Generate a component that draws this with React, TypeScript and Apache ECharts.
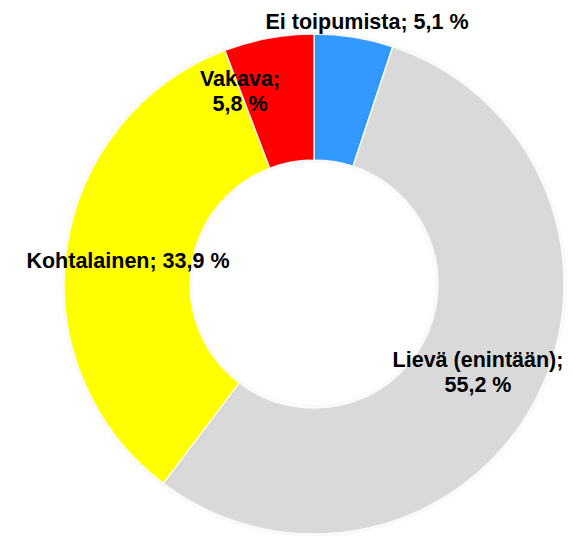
import React, { useEffect, useRef } from "react";
import * as echarts from "echarts";

const categories = ["Ei toipumista", "Lievä (enintään)", "Kohtalainen", "Vakava"];
const values = [5.1, 55.2, 33.9, 5.8];
const colors = ["#3399FF", "#D9D9D9", "#FFFF00", "#FF0000"];
// whether the value goes on a new line in the label
const labelBreaks = [false, true, false, true];
// label centre positions (px)
const labelPositions: [number, number][] = [
  [367, 22],
  [478, 372],
  [128, 261],
  [240, 91],
];

export default function App() {
  const ref = useRef<HTMLDivElement>(null);
  useEffect(() => {
    if (!ref.current) return;
    const chart = echarts.init(ref.current, undefined, { renderer: "svg" });
    chart.setOption({
      animation: false,
      backgroundColor: "#ffffff",
      series: [
        {
          type: "pie",
          center: [314, 284],
          radius: [124, 250],
          startAngle: 90,
          clockwise: true,
          avoidLabelOverlap: false,
          data: categories.map((name, i) => ({
            name,
            value: values[i],
            itemStyle: { color: colors[i] },
          })),
          itemStyle: {
            borderColor: "rgba(255,255,255,0.85)",
            borderWidth: 1.5,
            shadowBlur: 3,
            shadowColor: "rgba(0,0,0,0.12)",
          },
          label: {
            show: true,
            position: "inside",
            color: "#000",
            fontFamily: "'Liberation Sans', Arial, sans-serif",
            fontWeight: "bold",
            fontSize: 21.5,
            lineHeight: 25,
            align: "center",
            formatter: (p: any) => {
              const v = String(values[p.dataIndex]).replace(".", ",");
              return p.name + ";" + (labelBreaks[p.dataIndex] ? "\n" : " ") + v + " %";
            },
          },
          labelLine: { show: false },
          labelLayout: (p: any) => {
            const pos = labelPositions[p.dataIndex];
            return { x: pos[0], y: pos[1], align: "center", verticalAlign: "middle" };
          },
          emphasis: { disabled: true },
        },
      ],
    });
    return () => chart.dispose();
  }, []);
  return (
    <div
      ref={ref}
      style={{ position: "absolute", left: 0, top: 0, width: 573, height: 536 }}
    />
  );
}
